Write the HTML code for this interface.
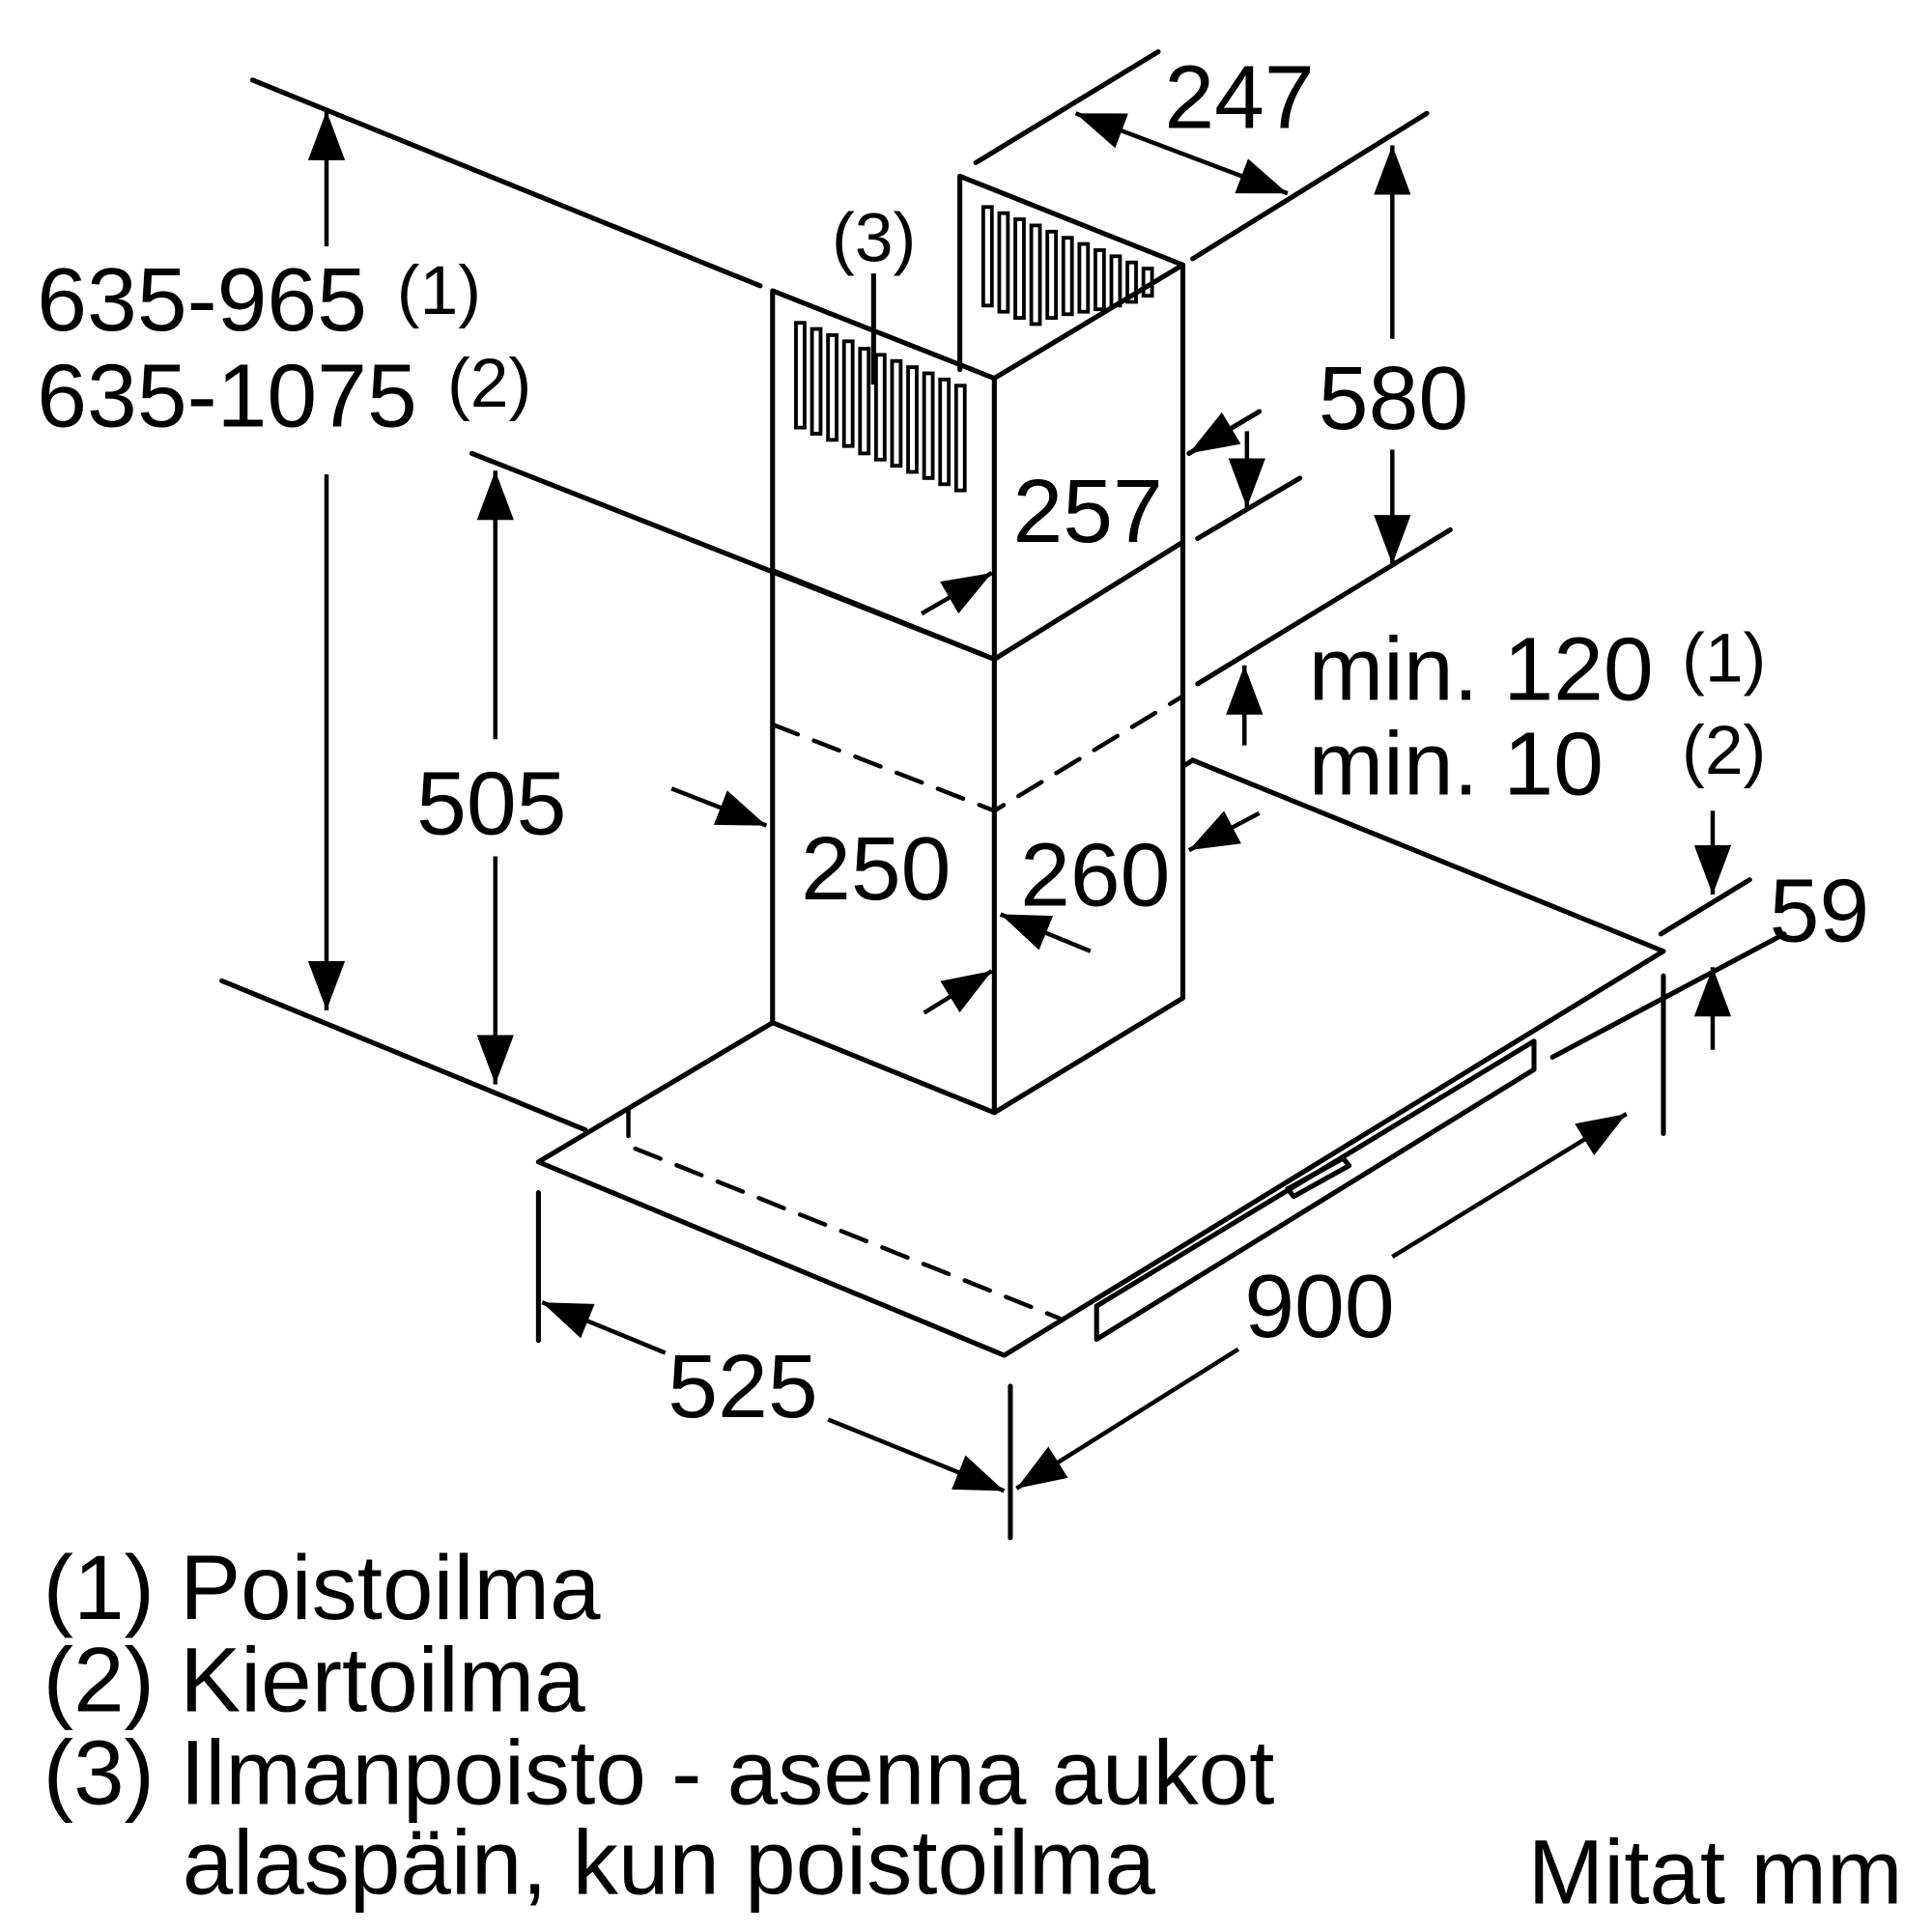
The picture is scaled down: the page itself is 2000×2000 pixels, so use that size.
<!DOCTYPE html>
<html><head><meta charset="utf-8"><style>
html,body{margin:0;padding:0;background:#fff;}
svg{display:block;}
text{font-family:"Liberation Sans",Arial,sans-serif;fill:#000;}
</style></head><body>
<svg width="2000" height="2000" viewBox="0 0 1568 1568" xmlns="http://www.w3.org/2000/svg">
<defs>
<marker id="b" viewBox="0 0 40 30" refX="40" refY="15" markerWidth="40" markerHeight="30" markerUnits="userSpaceOnUse" orient="auto-start-reverse"><path d="M0,0 L40,15 L0,30 z" fill="#000"/></marker>
</defs>
<g stroke="#000" stroke-width="4" fill="none" stroke-linecap="round" stroke-linejoin="round">
<line x1="205" y1="65" x2="617" y2="232"/>
<line x1="383" y1="368" x2="807" y2="535"/>
<line x1="180" y1="796" x2="475" y2="917"/>
<line x1="792" y1="132" x2="940" y2="42"/>
<line x1="968" y1="210" x2="1158" y2="92"/>
<polyline points="779,300 779,143 960,215 960,810"/>
<polyline points="627,830 627,236 807,307 960,215"/>
<line x1="807" y1="307" x2="807" y2="903"/>
<polyline points="627,463 807,535 960,440"/>
<polyline points="627,830 807,903 960,810"/>
<polyline points="627,588 807,658 960,565" stroke-dasharray="22,14" stroke-width="3.5"/>
<polyline points="627,830 437,943 815,1100 1350,772 968,617"/>
<line x1="960" y1="622" x2="968" y2="617"/>
<polyline points="890,1060 1245,845 1245,868 890,1087 890,1060"/>
<polyline points="510,900 510,930 860,1070" stroke-dasharray="22,14" stroke-width="3.5"/>
<polygon points="1045,965 1090,940 1095,946 1050,971"/>
<line x1="437" y1="968" x2="437" y2="1088"/>
<line x1="820" y1="1125" x2="820" y2="1248"/>
<line x1="1350" y1="792" x2="1350" y2="920"/>
<line x1="1348" y1="758" x2="1420" y2="714"/>
<line x1="1260" y1="858" x2="1448" y2="758"/>
<line x1="965" y1="368" x2="1022" y2="334"/>
<line x1="972" y1="437" x2="1055" y2="388"/>
<line x1="972" y1="555" x2="1177" y2="430"/>
</g>
<g stroke="#000" stroke-width="3" fill="none">
<rect x="646" y="262" width="7" height="85"/>
<rect x="659" y="267" width="7" height="85"/>
<rect x="672" y="272" width="7" height="85"/>
<rect x="685" y="277" width="7" height="85"/>
<rect x="698" y="283" width="7" height="85"/>
<rect x="711" y="288" width="7" height="85"/>
<rect x="724" y="293" width="7" height="85"/>
<rect x="737" y="298" width="7" height="85"/>
<rect x="750" y="303" width="7" height="85"/>
<rect x="763" y="308" width="7" height="85"/>
<rect x="776" y="313" width="7" height="85"/>
<rect x="798" y="168" width="7" height="80"/><rect x="811" y="173" width="7" height="80"/><rect x="824" y="178" width="7" height="80"/><rect x="837" y="183" width="7" height="80"/><rect x="850" y="188" width="7" height="70"/><rect x="863" y="193" width="7" height="62"/><rect x="876" y="198" width="7" height="55"/><rect x="889" y="203" width="7" height="48"/><rect x="902" y="208" width="7" height="40"/><rect x="915" y="213" width="7" height="32"/><rect x="928" y="218" width="7" height="22"/>
</g>
<line x1="709" y1="222" x2="709" y2="312" stroke="#000" stroke-width="4"/>
<g stroke="#000" stroke-width="3.5" fill="none">
<line x1="873" y1="92" x2="1045" y2="157" marker-start="url(#b)" marker-end="url(#b)"/>
<line x1="265" y1="200" x2="265" y2="90" marker-end="url(#b)"/>
<line x1="265" y1="385" x2="265" y2="820" marker-end="url(#b)"/>
<line x1="402" y1="600" x2="402" y2="382" marker-end="url(#b)"/>
<line x1="402" y1="695" x2="402" y2="880" marker-end="url(#b)"/>
<line x1="1130" y1="275" x2="1130" y2="118" marker-end="url(#b)"/>
<line x1="1130" y1="365" x2="1130" y2="458" marker-end="url(#b)"/>
<line x1="1022" y1="334" x2="965" y2="368" marker-end="url(#b)"/>
<line x1="1012" y1="350" x2="1012" y2="412" marker-end="url(#b)"/>
<line x1="748" y1="498" x2="805" y2="465" marker-end="url(#b)"/>
<line x1="1010" y1="605" x2="1010" y2="540" marker-end="url(#b)"/>
<line x1="545" y1="640" x2="622" y2="670" marker-end="url(#b)"/>
<line x1="1022" y1="660" x2="965" y2="690" marker-end="url(#b)"/>
<line x1="885" y1="772" x2="812" y2="742" marker-end="url(#b)"/>
<line x1="750" y1="822" x2="805" y2="788" marker-end="url(#b)"/>
<line x1="1390" y1="658" x2="1390" y2="726" marker-end="url(#b)"/>
<line x1="1390" y1="852" x2="1390" y2="785" marker-end="url(#b)"/>
<line x1="1130" y1="1020" x2="1320" y2="904" marker-end="url(#b)"/>
<line x1="1005" y1="1095" x2="825" y2="1208" marker-end="url(#b)"/>
<line x1="540" y1="1098" x2="440" y2="1057" marker-end="url(#b)"/>
<line x1="672" y1="1152" x2="815" y2="1210" marker-end="url(#b)"/>
</g>
<g font-size="73">
<text x="945" y="104">247</text>
<text x="1070" y="348">580</text>
<text x="822" y="440">257</text>
<text x="338" y="677">505</text>
<text x="650" y="730">250</text>
<text x="828" y="735">260</text>
<text x="1436" y="764">59</text>
<text x="1010" y="1085">900</text>
<text x="542" y="1150">525</text>
<text x="30" y="268">635-965</text>
<text x="30" y="346">635-1075</text>
<text x="1062" y="568">min. 120</text>
<text x="1062" y="645">min. 10</text>
</g>
<g font-size="56">
<text x="322" y="255">(1)</text>
<text x="363" y="330">(2)</text>
<text x="675" y="212">(3)</text>
<text x="1365" y="553">(1)</text>
<text x="1365" y="628">(2)</text>
</g>
<g font-size="74">
<text x="35" y="1314">(1) Poistoilma</text>
<text x="35" y="1389">(2) Kiertoilma</text>
<text x="35" y="1464">(3) Ilmanpoisto - asenna aukot</text>
<text x="148" y="1537">alaspäin, kun poistoilma</text>
<text x="1240" y="1545">Mitat mm</text>
</g>
</svg>
</body></html>
